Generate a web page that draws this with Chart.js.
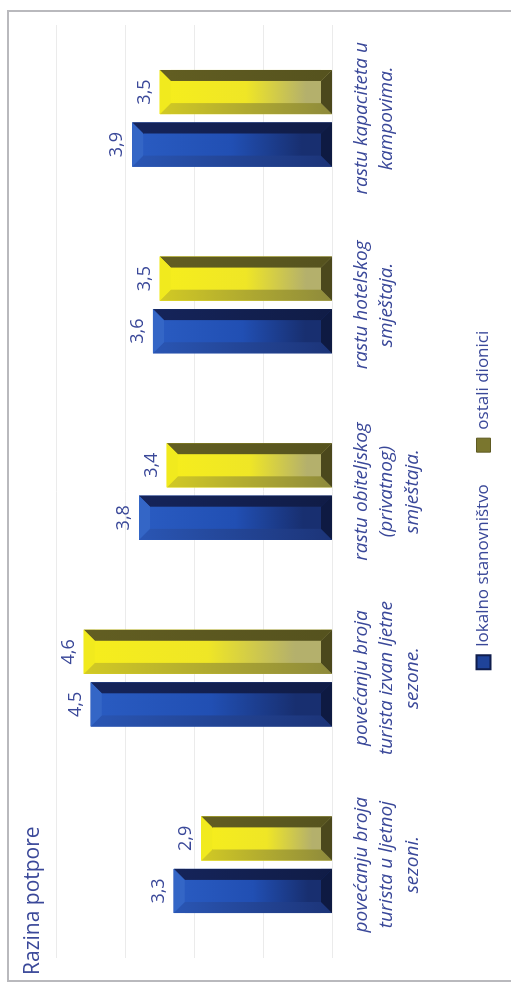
<!DOCTYPE html>
<html>
<head>
<meta charset="utf-8">
<script src="https://cdn.jsdelivr.net/npm/chart.js@4/dist/chart.umd.min.js"></script>
<style>
  html, body { margin: 0; padding: 0; background: #fff; }
  body { width: 511px; height: 984px; overflow: hidden; position: relative; }
  #wrap {
    position: absolute; left: 0; top: 0;
    width: 984px; height: 511px;
    transform-origin: 0 0;
    transform: translate(0, 984px) rotate(-90deg);
    background: #fff;
  }
  #frame {
    position: absolute; left: 2px; top: 7px; width: 972px; height: 520px;
    border: 2px solid #b9b9bd; box-sizing: border-box;
  }
  #chart { position: absolute; left: 0; top: 0; }
</style>
</head>
<body>
<div id="wrap">
  <div id="frame"></div>
  <canvas id="chart" width="984" height="511"></canvas>
</div>
<script>
// data
const categories = [
  ['povećanju broja', 'turista u ljetnoj', 'sezoni.'],
  ['povećanju broja', 'turista izvan ljetne', 'sezone.'],
  ['rastu obiteljskog', '(privatnog)', 'smještaja.'],
  ['rastu hotelskog', 'smještaja.'],
  ['rastu kapaciteta u', 'kampovima.']
];
const seriesNames = ['lokalno stanovništvo', 'ostali dionici'];
const lokalno = [3.3, 4.5, 3.8, 3.6, 3.9];
const ostali = [2.9, 4.6, 3.4, 3.5, 3.5];
const yTicks = [1, 2, 3, 4, 5];

const TEXT = '#3a4899';

// colours for the bevelled bars: body gradient (top end -> base) and the four edges
const palettes = [
  { body: ['#2a5cc2', '#214fb3', '#182f70'], top: '#3466c6', bottom: '#0e1a42',
    left: ['#2a56b4', '#1c3478'], right: ['#15245a', '#101c46'] },
  { body: ['#f6ee1c', '#efe626', '#b4b06c'], top: '#f1ea1e', bottom: '#4b481c',
    left: ['#d2ca24', '#8e8a3c'], right: ['#625e22', '#55521e'] }
];

function poly(ctx, pts, fill) {
  ctx.beginPath();
  ctx.moveTo(pts[0][0], pts[0][1]);
  for (let i = 1; i < pts.length; i++) ctx.lineTo(pts[i][0], pts[i][1]);
  ctx.closePath();
  ctx.fillStyle = fill;
  ctx.fill();
}

const bevelBars = {
  id: 'bevelBars',
  afterDatasetsDraw(chart) {
    const ctx = chart.ctx;
    ctx.save();
    chart.data.datasets.forEach((ds, i) => {
      const pal = palettes[i];
      chart.getDatasetMeta(i).data.forEach(bar => {
        const p = bar.getProps(['x', 'y', 'base', 'width'], true);
        const l = p.x - p.width / 2, r = p.x + p.width / 2, t = p.y, b = p.base;
        const bv = Math.min(11, p.width / 4);
        const g = ctx.createLinearGradient(0, t, 0, b);
        g.addColorStop(0, pal.body[0]);
        g.addColorStop(0.5, pal.body[1]);
        g.addColorStop(0.85, pal.body[2]);
        g.addColorStop(1, pal.body[2]);
        ctx.fillStyle = g;
        ctx.fillRect(l, t, r - l, b - t);
        const gl = ctx.createLinearGradient(0, t, 0, b);
        gl.addColorStop(0, pal.left[0]); gl.addColorStop(1, pal.left[1]);
        const gr = ctx.createLinearGradient(0, t, 0, b);
        gr.addColorStop(0, pal.right[0]); gr.addColorStop(1, pal.right[1]);
        poly(ctx, [[l, t], [l + bv, t + bv], [l + bv, b - bv], [l, b]], gl);
        poly(ctx, [[r, t], [r - bv, t + bv], [r - bv, b - bv], [r, b]], gr);
        poly(ctx, [[l, t], [r, t], [r - bv, t + bv], [l + bv, t + bv]], pal.top);
        poly(ctx, [[l, b], [r, b], [r - bv, b - bv], [l + bv, b - bv]], pal.bottom);
      });
    });
    ctx.restore();
  }
};

const valueLabels = {
  id: 'valueLabels',
  afterDatasetsDraw(chart) {
    const ctx = chart.ctx;
    ctx.save();
    ctx.font = '18px "Open Sans"';
    ctx.fillStyle = TEXT;
    ctx.textAlign = 'center';
    ctx.textBaseline = 'alphabetic';
    chart.data.datasets.forEach((ds, i) => {
      chart.getDatasetMeta(i).data.forEach((bar, j) => {
        const txt = ds.data[j].toFixed(1).replace('.', ',');
        ctx.fillText(txt, bar.x, bar.y - 10);
      });
    });
    ctx.restore();
  }
};

const ctx = document.getElementById('chart').getContext('2d');
new Chart(ctx, {
  type: 'bar',
  data: {
    labels: categories,
    datasets: [{
      label: seriesNames[0],
      data: lokalno,
      base: 1,
      backgroundColor: '#1f4399',
      borderWidth: 0,
      categoryPercentage: 0.563,
      barPercentage: 0.84
    }, {
      label: seriesNames[1],
      data: ostali,
      base: 1,
      backgroundColor: '#e9e124',
      borderWidth: 0,
      categoryPercentage: 0.563,
      barPercentage: 0.84
    }]
  },
  options: {
    responsive: false,
    animation: false,
    devicePixelRatio: 1,
    layout: { padding: { left: 9, right: 25, top: 0, bottom: 9 } },
    plugins: {
      title: {
        display: true,
        text: 'Razina potpore',
        align: 'start',
        color: TEXT,
        font: { family: 'Open Sans', size: 21, weight: 'normal' },
        padding: { top: 20, bottom: 11 }
      },
      legend: {
        position: 'bottom',
        labels: {
          boxWidth: 14,
          boxHeight: 14,
          padding: 32,
          color: TEXT,
          font: { family: 'Open Sans', size: 17 },
          generateLabels(chart) {
            const items = Chart.defaults.plugins.legend.labels.generateLabels(chart);
            items[0].fillStyle = '#1f4399'; items[0].strokeStyle = '#0f1d4d'; items[0].lineWidth = 2;
            items[1].fillStyle = '#7a762e'; items[1].strokeStyle = '#5e5a22'; items[1].lineWidth = 1;
            return items;
          }
        }
      },
      tooltip: { enabled: false }
    },
    scales: {
      x: {
        grid: { display: false, drawTicks: false },
        border: { display: false },
        ticks: {
          color: TEXT,
          font: { family: 'Open Sans', size: 19, style: 'italic', lineHeight: 1.34 },
          padding: 16,
          maxRotation: 0,
          autoSkip: false
        },
        afterFit(scale) { scale.height = 110.5; }
      },
      y: {
        min: 1,
        max: 5,
        afterBuildTicks(scale) { scale.ticks = yTicks.map(v => ({ value: v })); },
        ticks: { display: false },
        grid: { color: '#ebebeb', lineWidth: 1, drawTicks: false },
        border: { display: false },
        afterFit(scale) { scale.width = 17; }
      }
    }
  },
  plugins: [bevelBars, valueLabels]
});
</script>
</body>
</html>
